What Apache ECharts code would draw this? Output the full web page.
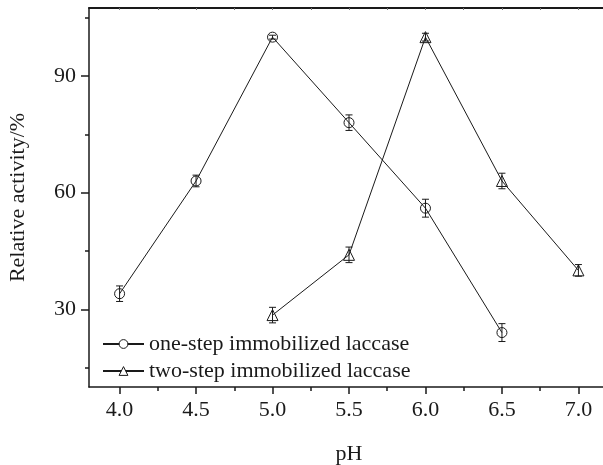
<!DOCTYPE html>
<html>
<head>
<meta charset="utf-8">
<script src="https://cdn.jsdelivr.net/npm/echarts@6/dist/echarts.min.js"></script>
<style>html,body{margin:0;padding:0;background:#fff}#c{width:603px;height:465px}</style>
</head>
<body>
<div id="c"></div>
<script>
// pH values and relative activity (%) with error half-widths
const phOne = [4.0, 4.5, 5.0, 5.5, 6.0, 6.5];
const actOne = [34, 63, 100, 78, 56, 24];
const errOne = [2, 1.5, 0.5, 2, 2.3, 2.3];

const phTwo = [5.0, 5.5, 6.0, 6.5, 7.0];
const actTwo = [28.5, 44, 100, 63, 40];
const errTwo = [2, 2, 1, 2, 1.5];

const xMajor = [4.0, 4.5, 5.0, 5.5, 6.0, 6.5, 7.0];
const xMinor = [4.25, 4.75, 5.25, 5.75, 6.25, 6.75];
const yMajor = [30, 60, 90];
const yMinor = [15, 45, 75, 105];

const nameOne = 'one-step immobilized laccase';
const nameTwo = 'two-step immobilized laccase';

const FONT = 'Liberation Serif';
const FS = 22;
const INK = '#1a1a1a';

function pairs(xs, ys) { return xs.map((x, i) => [x, ys[i]]); }

function errSeries(xs, ys, es) {
  return {
    type: 'custom',
    silent: true,
    z: 5,
    data: xs.map((x, i) => [x, ys[i] - es[i], ys[i] + es[i]]),
    renderItem: function (params, api) {
      const lo = api.coord([api.value(0), api.value(1)]);
      const hi = api.coord([api.value(0), api.value(2)]);
      const w = 3.5;
      const st = { stroke: INK, lineWidth: 1 };
      return {
        type: 'group',
        children: [
          { type: 'line', shape: { x1: lo[0], y1: lo[1], x2: hi[0], y2: hi[1] }, style: st },
          { type: 'line', shape: { x1: lo[0] - w, y1: lo[1], x2: lo[0] + w, y2: lo[1] }, style: st },
          { type: 'line', shape: { x1: hi[0] - w, y1: hi[1], x2: hi[0] + w, y2: hi[1] }, style: st }
        ]
      };
    }
  };
}

const XMIN = 3.8, XMAX = 7.2, YMIN = 10, YMAX = 107.5;

const axisLineStyle = { show: true, lineStyle: { color: INK, width: 1.5 } };

const chart = echarts.init(document.getElementById('c'), null, { renderer: 'canvas' });
chart.setOption({
  animation: false,
  backgroundColor: '#fff',
  grid: { left: 89, top: 8, width: 520, height: 379, containLabel: false, outerBoundsMode: 'none' },
  legend: {
    left: 97, top: 328, orient: 'vertical', itemGap: 5,
    itemWidth: 41, itemHeight: 11,
    itemStyle: { color: '#fff', borderColor: INK, borderWidth: 1 },
    textStyle: { fontFamily: FONT, fontSize: FS, color: INK },
    data: [nameOne, nameTwo]
  },
  xAxis: [
    {
      type: 'value', min: XMIN, max: XMAX, position: 'bottom',
      name: 'pH', nameLocation: 'middle', nameGap: 56,
      nameTextStyle: { fontFamily: FONT, fontSize: FS, color: INK },
      axisLine: axisLineStyle,
      axisTick: { show: true, length: 7, customValues: xMajor, lineStyle: { color: INK, width: 1.5 } },
      axisLabel: { show: true, margin: 12, customValues: xMajor, fontFamily: FONT, fontSize: FS, color: INK,
        formatter: v => v.toFixed(1) },
      splitLine: { show: false }
    },
    {
      type: 'value', min: XMIN, max: XMAX, position: 'bottom',
      axisLine: { show: false },
      axisTick: { show: true, length: 4, customValues: xMinor, lineStyle: { color: INK, width: 1.5 } },
      axisLabel: { show: false },
      splitLine: { show: false }
    },
    {
      type: 'value', min: XMIN, max: XMAX, position: 'top',
      axisLine: { show: true, lineStyle: { color: INK, width: 2 } },
      axisTick: { show: true, inside: true, length: 2, customValues: xMajor.concat(xMinor), lineStyle: { color: '#777', width: 1 } },
      axisLabel: { show: false },
      splitLine: { show: false }
    }
  ],
  yAxis: [
    {
      type: 'value', min: YMIN, max: YMAX, position: 'left',
      name: 'Relative activity/%', nameLocation: 'middle', nameGap: 60, nameRotate: 90,
      nameTextStyle: { fontFamily: FONT, fontSize: FS, color: INK },
      axisLine: axisLineStyle,
      axisTick: { show: true, length: 8, customValues: yMajor, lineStyle: { color: INK, width: 1.5 } },
      axisLabel: { show: true, margin: 13, customValues: yMajor, fontFamily: FONT, fontSize: FS, color: INK },
      splitLine: { show: false }
    },
    {
      type: 'value', min: YMIN, max: YMAX, position: 'left',
      axisLine: { show: false },
      axisTick: { show: true, length: 4, customValues: yMinor, lineStyle: { color: INK, width: 1.5 } },
      axisLabel: { show: false },
      splitLine: { show: false }
    }
  ],
  series: [
    {
      name: nameOne, type: 'line', data: pairs(phOne, actOne),
      symbol: 'circle', symbolSize: 10, z: 3,
      lineStyle: { color: INK, width: 1 },
      itemStyle: { color: 'rgba(255,255,255,0)', borderColor: INK, borderWidth: 1 }
    },
    {
      name: nameTwo, type: 'line', data: pairs(phTwo, actTwo),
      symbol: 'triangle', symbolSize: 11, z: 3,
      lineStyle: { color: INK, width: 1 },
      itemStyle: { color: 'rgba(255,255,255,0)', borderColor: INK, borderWidth: 1 }
    },
    errSeries(phOne, actOne, errOne),
    errSeries(phTwo, actTwo, errTwo)
  ]
});
</script>
</body>
</html>
